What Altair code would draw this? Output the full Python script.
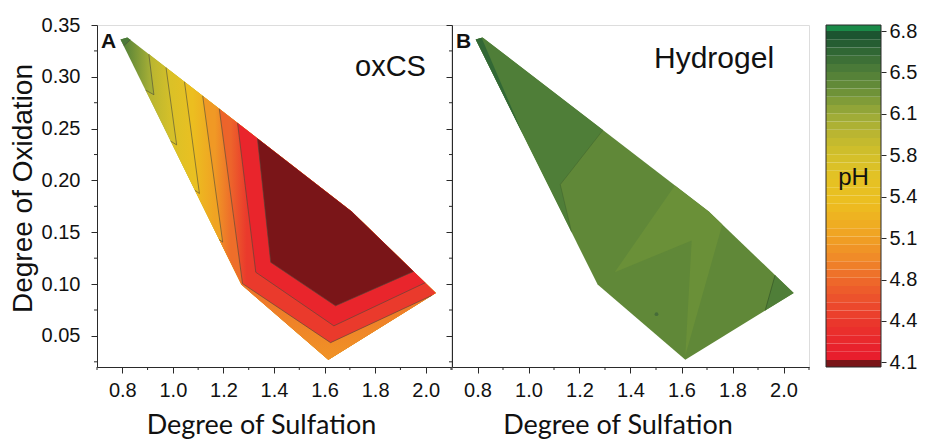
import altair as alt
import pandas as pd
import numpy as np

# ---------------- data ----------------
# outer hull of the sampled region (Degree of Sulfation, Degree of Oxidation)
hull_x = [0.793, 0.820, 1.707, 2.040, 1.615, 1.271]
hull_y = [0.336, 0.338, 0.170, 0.0914, 0.027, 0.0995]

# Panel A (oxCS) contour lines
c0_x = [0.832, 0.806];                      c0_y = [0.3357, 0.330]
c1_x = [0.905, 0.925, 0.892];               c1_y = [0.3219, 0.2827, 0.2872]
c2_x = [0.973, 1.015, 0.991];               c2_y = [0.3090, 0.2343, 0.2380]
c3_x = [1.046, 1.105, 1.087];               c3_y = [0.2952, 0.1874, 0.1906]
c4_x = [1.118, 1.197, 1.183];               c4_y = [0.2816, 0.1405, 0.1431]
c5_x = [1.1835, 1.2755, 1.6237, 2.024];     c5_y = [0.2692, 0.1005, 0.0435, 0.0890]
c6_x = [1.2558, 1.328, 1.6368, 1.998];      c6_y = [0.2555, 0.1114, 0.0597, 0.1013]
c7_x = [1.3346, 1.387, 1.6434, 1.952];      c7_y = [0.2405, 0.1210, 0.0790, 0.1122]

# pH shading of the bands of panel A: (value at high side, value at low side)
a_tip_ph = (6.42, 6.08)
a_top_ph = 6.50
a_band_ph = [(5.97, 5.77), (5.70, 5.48), (5.40, 5.14), (5.06, 4.80)]
a_strip_ph = (4.82, 5.02)
a_r5_ph = (4.74, 4.45)
a_r6_ph = 4.25
a_core_ph = 4.05

# Panel B (Hydrogel) regions
b_top_x = [0.793, 0.820, 1.292, 1.1246, 1.169];  b_top_y = [0.336, 0.338, 0.2486, 0.196, 0.150]
b_edge_x = [0.793, 0.816, 0.977];                b_edge_y = [0.336, 0.3377, 0.245]
b_z_x = [1.574, 1.338, 1.640, 1.615, 1.760, 1.707]
b_z_y = [0.1952, 0.1114, 0.1421, 0.031, 0.1575, 0.170]
b_tip_x = [1.967, 1.928, 2.040];                 b_tip_y = [0.1086, 0.0744, 0.0914]
b_band_ph = [6.38, 6.47, 6.62, 6.32, 6.47]
b_dot_x = [1.502]; b_dot_y = [0.071]

# axis ticks
x_major = [0.8, 1.0, 1.2, 1.4, 1.6, 1.8, 2.0]
x_minor = [0.7, 0.9, 1.1, 1.3, 1.5, 1.7, 1.9, 2.1]
y_major = [0.05, 0.10, 0.15, 0.20, 0.25, 0.30, 0.35]
y_minor = [0.025, 0.075, 0.125, 0.175, 0.225, 0.275, 0.325]

# colour bar
cbar_ticks = [4.1, 4.4375, 4.775, 5.1125, 5.4499, 5.7875, 6.125, 6.4625, 6.8]
cbar_min, cbar_max = 4.062, 6.849

# pH -> colour stops
cmap_ph = [4.00, 4.12, 4.121, 4.20, 4.40, 4.60, 4.80, 4.95, 5.10, 5.20, 5.40, 5.60, 5.80, 5.95,
           6.13, 6.30, 6.50, 6.65, 6.78, 6.80, 6.801, 6.90]
cmap_col = ["#7a1518", "#7a1518", "#e81c2c", "#e8202c", "#ea342c", "#ec4e2c", "#ee6e2a", "#f08a28",
            "#f09e24", "#f0aa22", "#ecbe20", "#e4c224", "#d2c02a", "#bcb630", "#9aaa38", "#6e9238",
            "#4a7a38", "#2c6434", "#1a5230", "#1a5230", "#1a8a48", "#1a8a48"]

# ---------------- helpers ----------------
FONT = "Liberation Sans"
cscale = alt.Scale(domain=cmap_ph, range=cmap_col, interpolate="rgb")
xscale = alt.Scale(domain=[0.7, 2.1], nice=False, zero=False)
yscale = alt.Scale(domain=[0.02, 0.35], nice=False, zero=False)
W_A, W_B, H = 354, 357, 342
TICK = "#2a2a2a"


def ph_color(v):
    rgb = [np.interp(v, cmap_ph, [int(c[1 + 2 * j:3 + 2 * j], 16) for c in cmap_col]) for j in range(3)]
    return "#%02x%02x%02x" % tuple(int(round(u)) for u in rgb)


def poly(xs, ys, ph):
    return pd.DataFrame({"x": xs, "y": ys, "i": range(len(xs)), "ph": ph})


def enc(chart):
    return chart.encode(x=alt.X("x:Q", scale=xscale), y=alt.Y("y:Q", scale=yscale), order="i:Q")


def fill_layer(df):
    return enc(alt.Chart(df).mark_line(filled=True, strokeWidth=0)).encode(
        color=alt.Color("ph:Q", scale=cscale, legend=None))


def grad_layer(xs, ys, ph_hi, ph_lo, x_hi=None, x_lo=None, vertical=False):
    """polygon whose fill shades from colour(ph_hi) to colour(ph_lo)"""
    df = poly(xs, ys, ph_hi)
    if vertical:
        g = alt.LinearGradient(gradient="linear", x1=0, x2=0, y1=0, y2=1, stops=[
            alt.GradientStop(color=ph_color(ph_hi), offset=0), alt.GradientStop(color=ph_color(ph_lo), offset=1)])
    else:
        lo, hi = min(xs), max(xs)
        oa = max(0.0, (x_hi - lo) / (hi - lo))
        ob = min(1.0, max(oa + 0.001, (x_lo - lo) / (hi - lo)))
        g = alt.LinearGradient(gradient="linear", x1=0, x2=1, y1=0, y2=0, stops=[
            alt.GradientStop(color=ph_color(ph_hi), offset=0),
            alt.GradientStop(color=ph_color(ph_hi), offset=oa),
            alt.GradientStop(color=ph_color(ph_lo), offset=ob),
            alt.GradientStop(color=ph_color(ph_lo), offset=1)])
    return enc(alt.Chart(df).mark_line(filled=True, fill=g, strokeWidth=0))


def line_layer(xs, ys, color, width, opacity):
    df = pd.DataFrame({"x": xs, "y": ys, "i": range(len(xs))})
    return enc(alt.Chart(df).mark_line(color=color, strokeWidth=width, opacity=opacity))


def xaxis(w):
    return alt.Axis(values=x_major, format=".1f", title="Degree of Sulfation", titleFont="Lato",
                    titleFontSize=27, titleFontWeight="normal", titleColor="#111", titlePadding=12,
                    titleX=w / 2 - 13, titleAlign="center",
                    labelFont=FONT, labelFontSize=20, labelColor="#111", labelPadding=7,
                    labelOverlap=False, labelFlush=False, tickSize=6,
                    tickColor=TICK, domainColor=TICK, grid=False)


def yaxis(labels=True):
    kw = dict(values=y_major, grid=False, tickColor=TICK, domainColor=TICK, tickSize=6)
    if labels:
        kw.update(format=".2f", title="Degree of Oxidation", titleFont=FONT, titleFontSize=28,
                  titleFontWeight="normal", titleColor="#111", titlePadding=4,
                  titleY=H / 2 - 8, titleAlign="center",
                  labelFont=FONT, labelFontSize=20, labelColor="#111", labelPadding=11,
                  labelOverlap=False, labelFlush=False)
    else:
        kw.update(title=None, labels=False)
    return alt.Axis(**kw)


def axes_layer(w, labels_y=True):
    df = pd.DataFrame({"x": [hull_x[0]], "y": [hull_y[0]]})
    return alt.Chart(df).mark_point(opacity=0).encode(
        x=alt.X("x:Q", scale=xscale, axis=xaxis(w)),
        y=alt.Y("y:Q", scale=yscale, axis=yaxis(labels_y)))


def minor_ticks():
    xm = alt.Chart(pd.DataFrame({"x": x_minor})).mark_rule(color=TICK, strokeWidth=1).encode(
        x=alt.X("x:Q", scale=xscale), y=alt.value(H), y2=alt.value(H + 3))
    ym = alt.Chart(pd.DataFrame({"y": y_minor})).mark_rule(color=TICK, strokeWidth=1).encode(
        y=alt.Y("y:Q", scale=yscale), x=alt.value(-3), x2=alt.value(0))
    return [xm, ym]


def label(text, px, py, size, weight="normal", font=FONT):
    return alt.Chart(pd.DataFrame({"t": [text]})).mark_text(
        align="left", baseline="alphabetic", font=font, fontSize=size, fontWeight=weight, color="#111"
    ).encode(text="t:N", x=alt.value(px), y=alt.value(py))


tail_x = [hull_x[5], hull_x[4], hull_x[3], hull_x[2]]
tail_y = [hull_y[5], hull_y[4], hull_y[3], hull_y[2]]

# ---------------- panel A ----------------
contours = [(c1_x, c1_y), (c2_x, c2_y), (c3_x, c3_y), (c4_x, c4_y), (c5_x[:2], c5_y[:2]),
            (c6_x[:2], c6_y[:2])]
a_layers = [axes_layer(W_A, True),
            grad_layer(hull_x, hull_y, a_tip_ph[0], a_tip_ph[1], 0.810, float(np.mean(c1_x))),
            fill_layer(poly(hull_x[:2] + c0_x, hull_y[:2] + c0_y, a_top_ph))]
for k in range(4):
    cx, cy = contours[k]
    nx, _ = contours[k + 1]
    a_layers.append(grad_layer(cx + tail_x, cy + tail_y, a_band_ph[k][0], a_band_ph[k][1],
                               float(np.mean(cx)), float(np.mean(nx))))
# strip along the lower boundary, below C5
a_layers.append(grad_layer([hull_x[5], hull_x[4], c5_x[3], c5_x[2], c5_x[1]],
                           [hull_y[5], hull_y[4], c5_y[3], c5_y[2], c5_y[1]],
                           a_strip_ph[0], a_strip_ph[1], vertical=True))
a_layers.append(grad_layer(c5_x + [hull_x[3], hull_x[2]], c5_y + [hull_y[3], hull_y[2]],
                           a_r5_ph[0], a_r5_ph[1], float(np.mean(c5_x[:2])), float(np.mean(c6_x[:2]))))
a_layers.append(fill_layer(poly(c6_x + [hull_x[2]], c6_y + [hull_y[2]], a_r6_ph)))
a_layers.append(fill_layer(poly(c7_x + [hull_x[2]], c7_y + [hull_y[2]], a_core_ph)))
for cx, cy in [(c0_x, c0_y), (c1_x, c1_y), (c2_x, c2_y), (c3_x, c3_y), (c4_x, c4_y),
               (c5_x, c5_y), (c6_x, c6_y), (c7_x, c7_y)]:
    a_layers.append(line_layer(cx, cy, "#4a4a3a", 0.8, 0.75))
a_layers += minor_ticks()
a_layers += [label("A", 4, 23, 21, "bold"), label("oxCS", 258, 51, 29)]
panel_a = alt.layer(*a_layers).properties(width=W_A, height=H)

# ---------------- panel B ----------------
b_regions = [
    poly(hull_x, hull_y, b_band_ph[0]),
    poly(b_top_x, b_top_y, b_band_ph[1]),
    poly(b_edge_x, b_edge_y, b_band_ph[2]),
    poly(b_z_x, b_z_y, b_band_ph[3]),
    poly(b_tip_x, b_tip_y, b_band_ph[4]),
]
b_layers = [axes_layer(W_B, False)] + [fill_layer(d) for d in b_regions]
b_layers.append(line_layer(b_top_x[2:], b_top_y[2:], "#3a5a2a", 0.8, 0.5))
b_layers.append(line_layer(b_tip_x[:2], b_tip_y[:2], "#2a4a22", 0.9, 0.6))
b_layers.append(enc(alt.Chart(pd.DataFrame({"x": b_dot_x, "y": b_dot_y, "i": [0]})).mark_point(
    filled=True, size=14, color="#44693a", opacity=0.9)))
b_layers += minor_ticks()
b_layers += [label("B", 4, 23, 21, "bold"), label("Hydrogel", 202, 43, 30)]
panel_b = alt.layer(*b_layers).properties(width=W_B, height=H)

# ---------------- colour bar ----------------
edges = np.linspace(4.12, 6.80, 41)
lo = [cbar_min] + list(edges[:-1]) + [6.80]
hi = [4.12] + list(edges[1:]) + [cbar_max]
cb_df = pd.DataFrame({"lo": lo, "hi": hi})
cb_df["ph"] = (cb_df["lo"] + cb_df["hi"]) / 2
CB_OFF, CB_W = 16, 55
cb_y = alt.Scale(domain=[cbar_min, cbar_max], nice=False, zero=False)
stripes = alt.Chart(cb_df).mark_rect().encode(
    x=alt.value(CB_OFF), x2=alt.value(CB_OFF + CB_W),
    y=alt.Y("lo:Q", scale=cb_y, axis=alt.Axis(orient="right", values=cbar_ticks, format=".1f", title=None,
                                              labelFont=FONT, labelFontSize=20, labelColor="#111",
                                              tickSize=5, tickColor=TICK, domain=False, grid=False,
                                              labelPadding=3, labelFlush=False, labelOverlap=False)),
    y2="hi:Q",
    color=alt.Color("ph:Q", scale=cscale, legend=None),
)
frame = alt.Chart(pd.DataFrame({"a": [0]})).mark_rect(fill=None, stroke=TICK, strokeWidth=1).encode(
    x=alt.value(CB_OFF), x2=alt.value(CB_OFF + CB_W), y=alt.value(0), y2=alt.value(H))
ph_text = alt.Chart(pd.DataFrame({"t": ["pH"], "v": [5.6]})).mark_text(
    font=FONT, fontSize=24, color="#111", align="center", baseline="middle").encode(
    text="t:N", x=alt.value(CB_OFF + CB_W / 2), y=alt.Y("v:Q", scale=cb_y))
cbar = alt.layer(stripes, frame, ph_text).properties(
    width=CB_OFF + CB_W, height=H, view=alt.ViewBackground(stroke=None))

chart = alt.hconcat(panel_a, panel_b, cbar, spacing=1, bounds="flush").properties(
    padding={"left": 8, "top": 14, "right": 2, "bottom": 0}
).configure_view(stroke=TICK, strokeWidth=1).configure(background="white")

chart.save("out.html", embed_options={"renderer": "svg", "actions": False})
